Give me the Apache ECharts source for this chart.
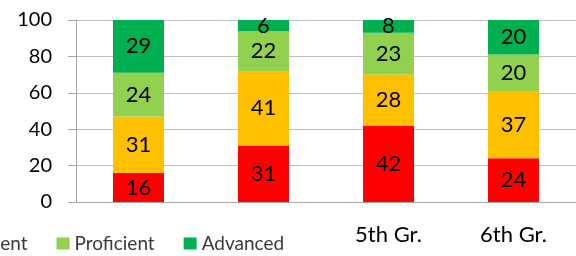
<!DOCTYPE html>
<html>
<head>
<meta charset="utf-8">
<style>
  body { margin: 0; padding: 0; background: #fff; }
  #main { width: 576px; height: 256px; }
</style>
</head>
<body>
<div id="main"></div>
<script src="https://cdn.jsdelivr.net/npm/echarts@6/dist/echarts.min.js"></script>
<script>
// grades on the x axis; only the last two labels are visible in the picture
var categories = ['3rd Gr.', '4th Gr.', '5th Gr.', '6th Gr.'];
var tickLabels = ['', '', '5th Gr.', '6th Gr.'];
var yTicks = [0, 20, 40, 60, 80, 100];

var unsatisfactory = [16, 31, 42, 24];
var partially = [31, 41, 28, 37];
var proficient = [24, 22, 23, 20];
var advanced = [29, 6, 8, 20];

var FONT = 'Lato';

function barSeries(name, data, color) {
    return {
        name: name,
        type: 'bar',
        stack: 'total',
        barWidth: 51,
        data: data,
        itemStyle: { color: color },
        label: {
            show: true,
            position: 'inside',
            color: '#000',
            fontFamily: FONT,
            fontSize: 22
        }
    };
}

var myChart = echarts.init(document.getElementById('main'));
myChart.setOption({
    animation: false,
    textStyle: { fontFamily: FONT },
    legend: {
        left: -311,
        top: 234,
        width: 900,
        padding: 0,
        itemGap: 29,
        itemWidth: 13,
        itemHeight: 12,
        icon: 'rect',
        textStyle: { fontFamily: FONT, fontSize: 19, color: '#3a3a3a' }
    },
    grid: { left: 76, right: -4, top: 20, bottom: 54 },
    xAxis: {
        type: 'category',
        data: categories,
        axisLine: { lineStyle: { color: '#a6a6a6' } },
        axisTick: { length: 8, lineStyle: { color: '#a6a6a6' } },
        axisLabel: {
            margin: 22,
            color: '#000',
            fontFamily: FONT,
            fontSize: 22,
            formatter: function (v, i) { return tickLabels[i]; }
        }
    },
    yAxis: {
        type: 'value',
        min: yTicks[0],
        max: yTicks[yTicks.length - 1],
        interval: 20,
        axisLine: { show: true, lineStyle: { color: '#a6a6a6' } },
        axisTick: { show: true, length: 8, lineStyle: { color: '#a6a6a6' } },
        splitLine: { lineStyle: { color: '#bfbfbf' } },
        axisLabel: { margin: 24, color: '#000', fontFamily: FONT, fontSize: 20 }
    },
    series: [
        barSeries('Unsatisfactory', unsatisfactory, '#ff0000'),
        barSeries('Partially Proficient', partially, '#ffc000'),
        barSeries('Proficient', proficient, '#92d050'),
        barSeries('Advanced', advanced, '#00b050')
    ]
});
</script>
</body>
</html>
